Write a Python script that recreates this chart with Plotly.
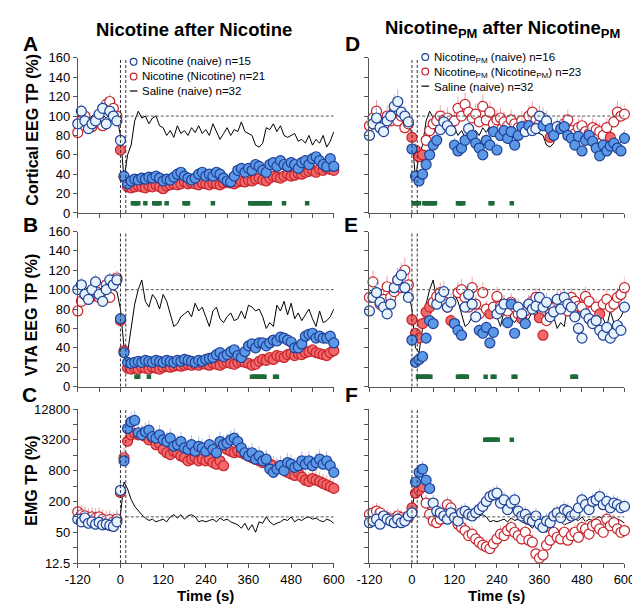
import math
import plotly.graph_objects as go

W, H = 640, 606
FONT = "Liberation Sans, Arial, sans-serif"

# ---------------- data ----------------
T = list(range(-120, 601, 10))  # 10-s bins

A_blue = [92, 105, 95, 87, 92, 95, 102, 108, 92, 105, 100, 95,
          75, 38, 30, 33, 35, 34, 36, 35, 37, 36,
          38, 36, 33, 35, 34, 37, 40, 42, 38, 36,
          34, 36, 40, 42, 38, 40, 38, 42, 40, 36,
          33, 32, 38, 44, 46, 42, 46, 44, 50, 48,
          44, 42, 50, 52, 48, 54, 50, 48, 52, 50,
          46, 52, 54, 50, 56, 58, 54, 50, 48, 56,
          48]
A_red = [83, 95, 100, 93, 89, 93, 96, 90, 112, 115, 108, 100,
         65, 37, 27, 26, 27, 28, 27, 26, 28, 27,
         29, 27, 25, 28, 29, 30, 29, 30, 32, 30,
         31, 30, 29, 31, 30, 29, 31, 30, 29, 31,
         32, 31, 30, 32, 33, 32, 34, 33, 35, 36,
         34, 33, 36, 38, 37, 36, 38, 40, 38, 39,
         41, 40, 42, 43, 44, 42, 45, 44, 46, 45,
         44]
SAL_ctx = [100, 98, 102, 97, 100, 103, 99, 101, 98, 102, 100, 99,
           80, 35, 60, 70, 95, 105, 98, 100, 92, 98,
           100, 90, 88, 80, 85, 78, 90, 82, 85, 80,
           88, 83, 90, 82, 86, 80, 92, 84, 76, 82,
           88, 80, 86, 84, 94, 84, 82, 80, 70, 68,
           72, 88, 86, 92, 84, 90, 80, 78, 80, 82,
           74, 76, 72, 80, 70, 76, 72, 80, 68, 74,
           84]

B_blue = [100, 105, 95, 90, 100, 108, 95, 88, 100, 110, 105, 110,
          70, 35, 25, 24, 25, 26, 25, 27, 26, 25,
          27, 26, 25, 27, 26, 25, 27, 26, 28, 27,
          26, 25, 27, 26, 28, 29, 30, 33, 35, 31,
          33, 36, 38, 32, 30, 36, 42, 44, 40, 45,
          45, 42, 45, 48, 47, 51, 50, 48, 46, 40,
          40, 44, 52, 54, 55, 50, 52, 50, 50, 52,
          45]
B_red = [78, 88, 95, 90, 93, 98, 92, 90, 105, 92, 110, 112,
         68, 37, 19, 18, 19, 18, 20, 19, 18, 20,
         19, 18, 20, 21, 20, 21, 22, 21, 22, 23,
         22, 23, 22, 24, 23, 22, 24, 23, 22, 24,
         25, 24, 23, 25, 26, 25, 24, 22, 23, 26,
         28, 27, 30, 28, 32, 31, 30, 33, 34, 32,
         34, 33, 35, 36, 38, 35, 34, 33, 32, 35,
         37]
SAL_vta = [100, 97, 103, 99, 101, 98, 102, 100, 97, 101, 100, 98,
           80, 40, 35, 60, 85, 100, 110, 88, 82, 95,
           90, 80, 95, 88, 75, 62, 65, 72, 75, 78,
           72, 86, 78, 82, 72, 62, 78, 82, 70, 66,
           72, 76, 68, 70, 78, 70, 84, 82, 78, 80,
           72, 60, 66, 62, 84, 78, 88, 74, 86, 70,
           76, 68, 74, 80, 70, 62, 78, 66, 68, 72,
           80]

C_blue = [90, 80, 95, 75, 80, 72, 78, 70, 72, 68, 65, 80,
          330, 1240, 5340, 7150, 7660, 4400, 4000, 4600, 4950, 3700,
          3450, 4000, 3200, 2960, 3450, 2400, 2570, 2960, 2220, 2070,
          2570, 1920, 2390, 2220, 1920, 2570, 2070, 1790, 2960, 2570,
          2760, 3200, 3450, 2960, 2220, 1790, 1550, 1790, 1340, 1550,
          1240, 1340, 860, 740, 860, 1000, 800, 1150, 1070, 925,
          1000, 1240, 1070, 1240, 1000, 1150, 1340, 1070, 1240, 1000,
          740]
C_red = [125, 110, 105, 95, 100, 95, 100, 90, 85, 88, 80, 90,
         300, 1430, 3000, 4000, 4300, 4000, 3990, 3700, 3200, 3450,
         2570, 2760, 2070, 1790, 1650, 1920, 1790, 1550, 1450, 1240,
         1340, 1450, 1240, 1340, 1240, 1340, 1150, 1070, 1240, 1000,
         2070, 1920, 1790, 1920, 1790, 1670, 1550, 1430, 1340, 1240,
         1150, 1240, 1070, 1000, 925, 1000, 860, 740, 690, 645,
         740, 600, 520, 490, 560, 520, 490, 450, 420, 390,
         360]
SAL_emg = [100, 95, 105, 98, 102, 96, 100, 104, 97, 100, 98, 102,
           110, 480, 350, 220, 160, 130, 110, 95, 85, 90,
           80, 85, 90, 80, 100, 110, 95, 110, 90, 105,
           110, 100, 80, 85, 80, 85, 90, 80, 95, 85,
           90, 80, 75, 70, 60, 75, 55, 70, 50, 80,
           75, 100, 80, 70, 75, 80, 90, 85, 100, 80,
           90, 85, 95, 100, 90, 95, 85, 80, 90, 85,
           75]

D_blue = [80, 92, 98, 88, 84, 95, 100, 110, 115, 104, 100, 94,
          66, 38, 33, 40, 50, 60, 70, 75, 86, 94,
          90, 85, 70, 64, 67, 75, 87, 80, 72, 67,
          60, 75, 70, 84, 65, 80, 85, 77, 84, 70,
          80, 89, 84, 90, 85, 87, 100, 90, 95, 87,
          80, 89, 87, 89, 80, 77, 70, 79, 64, 75,
          80, 74, 67, 59, 70, 64, 69, 72, 67, 64,
          77]
D_red = [90, 98, 105, 95, 90, 100, 95, 105, 95, 100, 88, 92,
         78, 65, 58, 60, 75, 85, 92, 95, 100, 96,
         98, 92, 95, 108, 100, 112, 104, 98, 102, 94,
         110, 96, 104, 92, 96, 98, 94, 90, 96, 92,
         88, 95, 90, 100, 104, 96, 92, 98, 90, 78,
         84, 86, 88, 92, 96, 85, 82, 88, 90, 84,
         82, 88, 86, 84, 80, 88, 78, 94, 104, 100,
         102]

E_blue = [78, 92, 97, 87, 82, 75, 85, 102, 110, 115, 102, 92,
          48, 25, 28, 31, 50, 68, 65, 85, 92, 98,
          82, 87, 65, 58, 53, 82, 95, 85, 72, 58,
          55, 61, 45, 56, 75, 80, 85, 66, 85, 55,
          82, 75, 65, 85, 80, 83, 92, 82, 87, 72,
          77, 90, 80, 92, 85, 82, 72, 60, 50, 75,
          70, 65, 68, 58, 53, 61, 50, 55, 63, 58,
          82]
E_red = [92, 108, 95, 85, 90, 103, 92, 98, 110, 102, 120, 105,
         69, 55, 50, 65, 77, 82, 87, 93, 97, 88,
         82, 68, 65, 97, 100, 92, 82, 102, 85, 75,
         97, 80, 75, 82, 93, 83, 85, 78, 87, 82,
         75, 70, 78, 85, 88, 92, 71, 53, 68, 75,
         82, 88, 90, 85, 78, 92, 88, 83, 82, 93,
         88, 78, 82, 75, 85, 90, 82, 85, 92, 95,
         102]

F_blue = [77, 83, 90, 72, 104, 90, 83, 77, 90, 77, 83, 104,
          120, 480, 740, 860, 520, 358, 186, 129, 120, 104,
          90, 120, 97, 83, 120, 129, 112, 104, 120, 139,
          160, 200, 249, 268, 290, 186, 215, 139, 186, 215,
          129, 104, 112, 90, 83, 104, 72, 62, 83, 77,
          104, 120, 97, 139, 129, 104, 112, 150, 215, 173,
          139, 200, 215, 249, 173, 200, 150, 186, 173, 150,
          160]
F_red = [112, 120, 129, 120, 104, 97, 90, 93, 104, 97, 90, 97,
         150, 290, 334, 386, 186, 112, 83, 77, 90, 120,
         173, 150, 104, 72, 62, 54, 43, 46, 37, 32,
         28, 26, 24, 30, 37, 46, 43, 54, 62, 50,
         43, 37, 50, 35, 32, 19, 15.6, 18, 28, 35,
         50, 40, 37, 50, 35, 43, 50, 40, 62, 58,
         46, 67, 72, 58, 50, 90, 67, 77, 58, 50,
         54]

# filled (significant) = 1, open = 0; 12 pre-injection bins then 0..600 s
A_blue_fill = "000000000000 0111111111 1111111111 1111111111 1111111111 1111111111 1111111111 1"
A_red_fill  = "000000000000 1111111111 1111111111 1111111111 1111111111 1111111111 1111111111 1"
B_blue_fill = "000000000000 1111111111 1111111111 1111111111 1111111111 1111111111 1111111111 1"
B_red_fill  = "000000000000 1111111111 1111111111 1111111111 1111111111 1111111111 1111111111 1"
C_blue_fill = "000000000000 0111111111 1111111111 1111111111 1111111111 1111111111 1111111111 1"
C_red_fill  = "000000000000 1111111111 1111111111 1111111111 1111111111 1111111111 1111111111 1"
D_blue_fill = "000000000000 1111111100 0011110111 1111111111 1101000101 1011111111 1111111111 1"
D_red_fill  = "000000000000 1111000000 0000000000 0000000000 0000000001 0000000000 0000001000 0"
E_blue_fill = "000000000000 1111111000 0011100001 1111000111 0010000000 0000000000 0000000000 0"
E_red_fill  = "000000000000 1111110000 0110000000 0010000000 0100001100 0000000000 0001000000 0"
F_blue_fill = "000000000000 0111110000 0000000000 0000000000 0000000000 0000000000 0000000000 0"
F_red_fill  = "000000000000 1111000000 0000000000 0000000000 0000000000 0000000000 0000000000 0"

# significance bins (s)
A_sig = [35, 40, 45, 50, 70, 95, 100, 105, 110, 130, 180, 185, 190, 260,
         365, 370, 375, 380, 385, 390, 395, 400, 405, 410, 415, 420, 460, 525]
B_sig = [45, 50, 80, 370, 375, 380, 385, 390, 395, 400, 405, 435, 440]
D_sig = [5, 10, 15, 20, 35, 40, 45, 50, 55, 60, 65, 130, 135, 140, 145, 222, 227, 282]
E_sig = [17, 22, 27, 32, 37, 42, 47, 52, 130, 135, 140, 145, 150, 155,
         208, 228, 233, 287, 292, 453, 458, 463]
F_sig = [207, 212, 217, 222, 227, 232, 237, 242, 282]

X_MAJOR = [-120, 0, 120, 240, 360, 480, 600]
X_MINOR = [-60, 60, 180, 300, 420, 540]
LIN_TICKS = [0, 20, 40, 60, 80, 100, 120, 140, 160]
LOG_MAJOR = [12.5, 50, 200, 800, 3200, 12800]
LOG_MINOR = [25, 100, 400, 1600, 6400]

LEGEND_LEFT = ["Nicotine (naive) n=15", "Nicotine (Nicotine) n=21", "Saline (naive) n=32"]
LEGEND_RIGHT = ["Nicotine<sub>PM</sub> (naive) n=16",
                "Nicotine<sub>PM</sub> (Nicotine<sub>PM</sub>) n=23",
                "Saline (naive) n=32"]

# ---------------- styling ----------------
BLUE_LINE, BLUE_FILL, BLUE_OPEN, BLUE_ERR = "#1f3f98", "#5b99e6", "#e6f3fb", "#a9c2e6"
RED_LINE, RED_FILL, RED_OPEN, RED_ERR = "#c8232c", "#f06868", "#ffffff", "#f0a4a4"
GREEN = "#1d6b38"
AX = "#555555"

def flags(s):
    return [int(c) for c in s.replace(" ", "")]

def px_x(px):
    return px / W

def px_y(py):
    return 1 - py / H

LEFT = (59, 325)
RIGHT = (362, 627)
ROWS = [(44, 203), (222, 381), (404, 562)]

fig = go.Figure()
layout = dict(
    width=W, height=H, margin=dict(l=0, r=0, t=0, b=0),
    paper_bgcolor="white", plot_bgcolor="white", showlegend=False,
    font=dict(family=FONT, size=13, color="black"),
)

panels = [
    ("A", 0, 0, False, A_blue, A_red, SAL_ctx, A_blue_fill, A_red_fill, A_sig, 7),
    ("B", 0, 1, False, B_blue, B_red, SAL_vta, B_blue_fill, B_red_fill, B_sig, 7),
    ("C", 0, 2, True, C_blue, C_red, SAL_emg, C_blue_fill, C_red_fill, [], 55),
    ("D", 1, 0, False, D_blue, D_red, SAL_ctx, D_blue_fill, D_red_fill, D_sig, 11),
    ("E", 1, 1, False, E_blue, E_red, SAL_vta, E_blue_fill, E_red_fill, E_sig, 11),
    ("F", 1, 2, True, F_blue, F_red, SAL_emg, F_blue_fill, F_red_fill, F_sig, 45),
]
LETTER_POS = {"A": (10, 29), "B": (10, 215), "C": (9, 389),
              "D": (344, 29), "E": (343, 215), "F": (343, 389)}

shapes = []
annotations = []
TICKSTYLE = dict(ticks="outside", ticklen=4, tickcolor=AX, showline=True, linecolor=AX,
                 linewidth=1, showgrid=False, zeroline=False,
                 tickfont=dict(size=13, family=FONT, color="black"))
MINORSTYLE = dict(ticks="outside", ticklen=4, tickcolor=AX, showgrid=False)

for i, (key, col, row, is_log, vb, vr, vs, fb, fr, sig, err) in enumerate(panels, start=1):
    sfx = "" if i == 1 else str(i)
    xa, ya = "x" + sfx, "y" + sfx
    xk, yk = "xaxis" + sfx, "yaxis" + sfx
    xd = LEFT if col == 0 else RIGHT
    yd = ROWS[row]
    bottom = row == 2
    layout[xk] = dict(
        domain=[px_x(xd[0]), px_x(xd[1])], anchor=ya, range=[-120, 600],
        tickmode="array", tickvals=X_MAJOR, ticktext=[str(v) for v in X_MAJOR],
        showticklabels=bottom,
        minor=dict(tickmode="array", tickvals=X_MINOR, **MINORSTYLE),
        **TICKSTYLE,
    )
    if is_log:
        layout[yk] = dict(
            domain=[px_y(yd[1]), px_y(yd[0])], anchor=xa, type="log",
            range=[math.log10(12.5), math.log10(12800)],
            tickmode="array", tickvals=LOG_MAJOR, ticktext=[f"{v:g}" for v in LOG_MAJOR],
            minor=dict(tickmode="array", tickvals=LOG_MINOR, **MINORSTYLE),
            showticklabels=(col == 0), **TICKSTYLE,
        )
    else:
        layout[yk] = dict(
            domain=[px_y(yd[1]), px_y(yd[0])], anchor=xa, range=[0, 160],
            tickmode="array", tickvals=LIN_TICKS, ticktext=[str(v) for v in LIN_TICKS],
            showticklabels=(col == 0), **TICKSTYLE,
        )

    fig.add_trace(go.Scatter(x=T, y=vs, mode="lines", line=dict(color="black", width=1),
                             xaxis=xa, yaxis=ya, hoverinfo="skip"))
    for vals, fl, lc, fc, oc, ec in ((vr, fr, RED_LINE, RED_FILL, RED_OPEN, RED_ERR),
                                      (vb, fb, BLUE_LINE, BLUE_FILL, BLUE_OPEN, BLUE_ERR)):
        f = flags(fl)
        fig.add_trace(go.Scatter(
            x=T, y=vals, mode="markers", xaxis=xa, yaxis=ya, cliponaxis=False,
            marker=dict(size=10, color=[fc if k else oc for k in f],
                        line=dict(color=lc, width=1.2)),
            error_y=dict(type="percent", value=err, valueminus=0, symmetric=False,
                         color=ec, thickness=1, width=0),
        ))
    if sig:
        fig.add_trace(go.Scatter(
            x=sig, y=[3200 if is_log else 10] * len(sig), mode="markers",
            marker=dict(symbol="square", size=4.5, color=GREEN, line=dict(width=0)),
            xaxis=xa, yaxis=ya))

    for xv in (0, 15):
        shapes.append(dict(type="line", xref=xa, yref=ya + " domain", x0=xv, x1=xv,
                           y0=0, y1=1, line=dict(color="#333333", width=1, dash="3px,2px")))
    shapes.append(dict(type="line", xref=xa, yref=ya, x0=15, x1=600, y0=100, y1=100,
                       line=dict(color="#555555", width=1, dash="3px,2px")))

    lx, ly = LETTER_POS[key]
    annotations.append(dict(text=f"<b>{key}</b>", x=px_x(lx), y=px_y(ly), xref="paper",
                            yref="paper", showarrow=False, xanchor="center", yanchor="middle",
                            font=dict(size=21, family=FONT, color="black")))

for text, cy in (("Cortical EEG TP (%)", 118), ("VTA EEG TP (%)", 308), ("EMG TP (%)", 478)):
    annotations.append(dict(text=f"<b>{text}</b>", x=px_x(11), y=px_y(cy), xref="paper",
                            yref="paper", showarrow=False, textangle=-90,
                            xanchor="center", yanchor="middle",
                            font=dict(size=16, family=FONT, color="black")))
for cx in (192, 494):
    annotations.append(dict(text="<b>Time (s)</b>", x=px_x(cx), y=px_y(595), xref="paper",
                            yref="paper", showarrow=False, xanchor="center", yanchor="middle",
                            font=dict(size=15, family=FONT, color="black")))
annotations.append(dict(text="<b>Nicotine after Nicotine</b>", x=px_x(180), y=px_y(15),
                        xref="paper", yref="paper", showarrow=False, xanchor="center",
                        yanchor="middle", font=dict(size=18.5, family=FONT, color="black")))
annotations.append(dict(text="<b>Nicotine<sub>PM</sub> after Nicotine<sub>PM</sub></b>",
                        x=px_x(500), y=px_y(14), xref="paper", yref="paper", showarrow=False,
                        xanchor="center", yanchor="middle",
                        font=dict(size=18.5, family=FONT, color="black")))

LEG_FONT = 11.5
LEG_STEP = LEG_FONT * 1.3  # plotly line spacing

def legend(cx, cy_mid, colors, texts):
    for k, kind in enumerate(colors):
        cy = cy_mid + (k - 1) * LEG_STEP
        if kind == "line":
            shapes.append(dict(type="line", xref="paper", yref="paper",
                               x0=px_x(cx - 4), x1=px_x(cx + 4), y0=px_y(cy), y1=px_y(cy),
                               line=dict(color="black", width=1.2)))
        else:
            shapes.append(dict(type="circle", xref="paper", yref="paper",
                               x0=px_x(cx - 3.5), x1=px_x(cx + 3.5),
                               y0=px_y(cy + 3.5), y1=px_y(cy - 3.5),
                               fillcolor="white", line=dict(color=kind, width=1.2)))
    annotations.append(dict(text="<br>".join(texts), x=px_x(cx + 7), y=px_y(cy_mid),
                            xref="paper", yref="paper", showarrow=False, xanchor="left",
                            yanchor="middle", align="left",
                            font=dict(size=LEG_FONT, family=FONT, color="black")))

legend(117, 63, [BLUE_LINE, RED_LINE, "line"], LEGEND_LEFT)
legend(420, 58, [BLUE_LINE, RED_LINE, "line"], LEGEND_RIGHT)

layout["shapes"] = shapes
layout["annotations"] = annotations
fig.update_layout(**layout)
fig.write_html("out.html")
